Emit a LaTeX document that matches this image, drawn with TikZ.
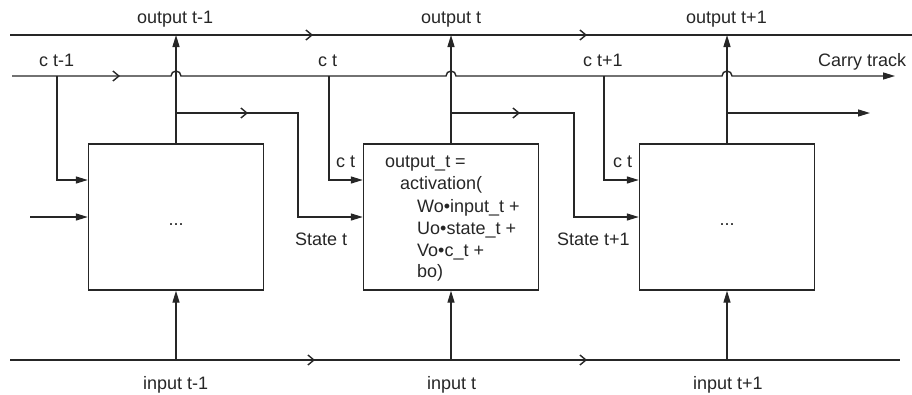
\documentclass[tikz,border=0pt]{standalone}
\usepackage{fontspec}
\setmainfont{Liberation Sans}
\usetikzlibrary{arrows.meta,decorations.markings,calc}
\definecolor{ink}{HTML}{262626}
\tikzset{
  ln/.style={line width=1.4pt, draw=ink},
  fwd/.style={-{Triangle[length=12pt,width=7pt]}},
  barbone/.style={postaction={decorate}, decoration={markings,
      mark=at position #1 with {\arrow{Straight Barb[length=6pt,width=10pt,line width=1.4pt]}}}},
  barbtwo/.style 2 args={postaction={decorate}, decoration={markings,
      mark=at position #1 with {\arrow{Straight Barb[length=6pt,width=10pt,line width=1.4pt]}},
      mark=at position #2 with {\arrow{Straight Barb[length=6pt,width=10pt,line width=1.4pt]}}}},
  cell/.style={draw=ink, line width=1.4pt, minimum width=175pt, minimum height=146pt, inner sep=0pt},
  lbl/.style={inner sep=0pt, anchor=base west, text=ink, font=\fontsize{18}{22}\selectfont},
  dots/.style={inner sep=0pt, anchor=base, text=ink, font=\fontsize{18}{22}\selectfont},
}
\begin{document}
\begin{tikzpicture}[x=1pt,y=1pt]
\useasboundingbox (0,0) rectangle (912,-394);
% cells
\node[cell] (b1) at (176,-217) {};
\node[cell] (b2) at (451,-217) {};
\node[cell] (b3) at (727,-217) {};
% track coordinates
\coordinate (oL) at (10,-35);
\coordinate (oR) at (912,-35);
\coordinate (cL) at (12,-76);
\coordinate (cR) at (895,-76);
\coordinate (iL) at (10,-360);
\coordinate (iR) at (900,-360);
\coordinate (j1) at (171,-76);
\coordinate (j2) at (446,-76);
\coordinate (j3) at (722,-76);
\coordinate (s1) at (176,-113);
\coordinate (s1r) at (298,-113);
\coordinate (s2) at (451,-113);
\coordinate (s2r) at (574,-113);
\coordinate (s3) at (727,-113);
\coordinate (s3r) at (870,-113);
\coordinate (k1) at (57,-76);
\coordinate (k2) at (329,-76);
\coordinate (k3) at (604,-76);
\coordinate (lin) at (30,-217);
% output track
\draw[ln, barbtwo={303pt}{577pt}] (oL) -- (oR);
% carry track with jumps
\draw[ln, fwd, barbone={108pt}] (cL) -- (j1) arc (180:0:5) -- (j2) arc (180:0:5) -- (j3) arc (180:0:5) -- (cR);
% input track
\draw[ln, barbtwo={305pt}{577pt}] (iL) -- (iR);
% outputs up
\draw[ln, fwd] (b1.north) -- (b1.north |- oL);
\draw[ln, fwd] (b2.north) -- (b2.north |- oL);
\draw[ln, fwd] (b3.north) -- (b3.north |- oL);
% inputs up
\draw[ln, fwd] (b1.south |- iL) -- (b1.south);
\draw[ln, fwd] (b2.south |- iL) -- (b2.south);
\draw[ln, fwd] (b3.south |- iL) -- (b3.south);
% state branches
\draw[ln, fwd, barbone={72pt}] (s1) -- (s1r) |- (b2.west);
\draw[ln, fwd, barbone={69pt}] (s2) -- (s2r) |- (b3.west);
\draw[ln, fwd] (s3) -- (s3r);
% carry branches
\draw[ln, fwd] (k1) |- ($(b1.west)+(0,37)$);
\draw[ln, fwd] (k2) |- ($(b2.west)+(0,37)$);
\draw[ln, fwd] (k3) |- ($(b3.west)+(0,37)$);
% left input
\draw[ln, fwd] (lin) -- (b1.west);
% labels
\node[lbl] (lo1) at (137,-23) {output t-1};
\node[lbl] (lo2) at (421,-23) {output t};
\node[lbl] (lo3) at (686,-23) {output t+1};
\node[lbl] (lc1) at (39,-66) {c t-1};
\node[lbl] (lc2) at (318,-66) {c t};
\node[lbl] (lc3) at (583,-66) {c t+1};
\node[lbl] (lct) at (818,-66) {Carry track};
\node[lbl] (lk2) at (336,-167) {c t};
\node[lbl] (lk3) at (613,-167) {c t};
\node[lbl] (ls2) at (295,-245) {State t};
\node[lbl] (ls3) at (557,-245) {State t+1};
\node[lbl] (li1) at (143,-389) {input t-1};
\node[lbl] (li2) at (427,-389) {input t};
\node[lbl] (li3) at (693,-389) {input t+1};
\node[dots] (d1) at (176,-225) {...};
\node[dots] (d3) at (727,-225) {...};
% formula
\node[lbl] (f1) at (385,-167) {output\_t =};
\node[lbl] (f2) at (400,-189) {activation(};
\node[lbl] (f3) at (417,-212) {Wo•input\_t +};
\node[lbl] (f4) at (417,-234) {Uo•state\_t +};
\node[lbl] (f5) at (417,-256) {Vo•c\_t +};
\node[lbl] (f6) at (417,-277) {bo)};
\end{tikzpicture}
\end{document}
